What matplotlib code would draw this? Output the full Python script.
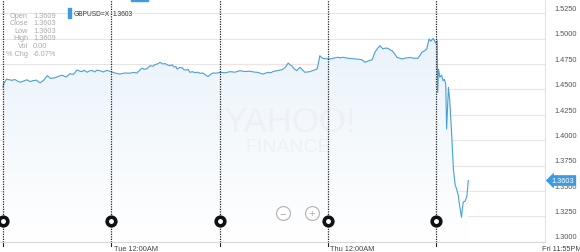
import numpy as np
import matplotlib.pyplot as plt
import matplotlib.transforms as mtransforms
from matplotlib.colors import LinearSegmentedColormap

plt.rcParams['font.family'] = ['Liberation Sans', 'DejaVu Sans']

# hours since Mon 12:00AM, GBPUSD=X close
hours = [0, 0.2, 0.8, 1.4, 2.0, 2.6, 3.2, 3.8, 4.5, 5.3, 6.0, 6.6, 7.4, 8.2, 9.0,
         9.8, 10.6, 11.5, 12.3, 13.1, 14.0, 14.8, 15.6, 16.4, 17.0, 17.5, 18.0,
         18.6, 19.2, 19.7, 20.3, 20.8, 21.5, 22.2, 23.0, 23.7, 24.3, 24.8, 25.4,
         25.9, 27.0, 28.1, 29.0, 29.7, 30.3, 30.8, 31.3, 31.9, 32.3, 32.6, 33.2,
         33.7, 34.3, 34.8, 35.4, 35.9, 36.5, 37.0, 37.5, 37.9, 38.3, 38.6, 39.2,
         39.7, 40.1, 40.5, 41.0, 41.4, 42.0, 42.5, 43.1, 43.7, 44.3, 44.8, 45.1,
         45.4, 46.0, 46.5, 47.3, 48.1, 49.2, 50.3, 51.4, 52.5, 53.6, 54.7, 55.5,
         56.3, 57.0, 57.6, 58.2, 58.7, 59.3, 59.8, 60.8, 61.8, 62.5, 63.2, 63.6,
         64.0, 64.6, 65.1, 65.5, 65.8, 66.4, 66.9, 67.5, 68.0, 68.8, 69.6, 69.9,
         70.2, 70.6, 70.9, 71.7, 72.5, 73.3, 74.2, 74.8, 75.3, 76.1, 76.9, 78.2,
         79.5, 79.9, 80.2, 81.0, 81.8, 82.1, 82.4, 83.0, 83.5, 83.9, 84.2, 84.8,
         85.3, 85.8, 86.2, 86.8, 87.3, 87.9, 88.4, 89.3, 90.2, 91.0, 91.9, 92.4,
         92.8, 93.4, 93.9, 94.4, 94.8, 95.3, 95.6, 95.9, 96.2, 96.3, 96.5, 96.8,
         97.2, 97.5, 97.8, 98.1, 98.3, 98.7, 99.0, 99.4, 99.8, 100.2, 100.5,
         100.9, 101.1, 101.3, 101.6, 101.8, 102.0, 102.4, 102.8, 103.1]
prices = [1.4524, 1.4560, 1.4602, 1.4595, 1.4590, 1.4598, 1.4583, 1.4570, 1.4582,
          1.4595, 1.4578, 1.4586, 1.4592, 1.4565, 1.4590, 1.4635, 1.4608, 1.4615,
          1.4630, 1.4640, 1.4622, 1.4655, 1.4648, 1.4692, 1.4680, 1.4675, 1.4690,
          1.4669, 1.4683, 1.4688, 1.4672, 1.4690, 1.4684, 1.4672, 1.4688, 1.4679,
          1.4670, 1.4662, 1.4656, 1.4652, 1.4662, 1.4660, 1.4668, 1.4662, 1.4690,
          1.4710, 1.4698, 1.4705, 1.4722, 1.4734, 1.4728, 1.4745, 1.4752, 1.4767,
          1.4750, 1.4755, 1.4740, 1.4734, 1.4742, 1.4720, 1.4726, 1.4700, 1.4718,
          1.4712, 1.4695, 1.4690, 1.4698, 1.4669, 1.4675, 1.4665, 1.4670, 1.4659,
          1.4662, 1.4645, 1.4638, 1.4626, 1.4648, 1.4662, 1.4660, 1.4669, 1.4664,
          1.4675, 1.4670, 1.4685, 1.4676, 1.4680, 1.4672, 1.4669, 1.4660, 1.4652,
          1.4661, 1.4668, 1.4664, 1.4675, 1.4686, 1.4694, 1.4715, 1.4760, 1.4742,
          1.4733, 1.4700, 1.4685, 1.4705, 1.4718, 1.4690, 1.4669, 1.4672, 1.4675,
          1.4688, 1.4702, 1.4760, 1.4832, 1.4815, 1.4806, 1.4802, 1.4800, 1.4808,
          1.4817, 1.4811, 1.4817, 1.4810, 1.4805, 1.4800, 1.4793, 1.4780, 1.4767,
          1.4782, 1.4793, 1.4830, 1.4866, 1.4905, 1.4931, 1.4912, 1.4900, 1.4908,
          1.4905, 1.4890, 1.4882, 1.4850, 1.4817, 1.4808, 1.4800, 1.4810, 1.4815,
          1.4808, 1.4806, 1.4835, 1.4866, 1.4880, 1.4900, 1.4997, 1.4975, 1.5003,
          1.4982, 1.4957, 1.4980, 1.4470, 1.4701, 1.4620, 1.4640, 1.4586, 1.4600,
          1.4553, 1.4110, 1.4520, 1.4389, 1.4077, 1.3716, 1.3560, 1.3520, 1.3453,
          1.3380, 1.3322, 1.3240, 1.3330, 1.3390, 1.3400, 1.3450, 1.3603]

y_ticks = [1.3000, 1.3250, 1.3500, 1.3750, 1.4000, 1.4250, 1.4500, 1.4750, 1.5000, 1.5250]
day_lines = [0, 24, 48, 72, 96]
x_label_pos = [24, 72, 119.0]
x_labels = ['Tue 12:00AM', 'Thu 12:00AM', 'Fri 11:55PM']
quote_names = ['Open', 'Close', 'Low', 'High', 'Vol', '% Chg']
quote_values = ['1.3609', '1.3603', '1.3603', '1.3609', '0.00', '-6.07%']
symbol = 'GBPUSD=X'
last_price = 1.3603

fig = plt.figure(figsize=(5.8, 2.53), dpi=100)
ax = fig.add_axes([0, 10 / 253, 545 / 580, 243 / 253])
ax.set_xlim(-0.665, 120.1)
ax.set_ylim(1.2997, 1.5391)
for s in ['top', 'left']:
    ax.spines[s].set_visible(False)
ax.spines['right'].set_color('#e3e3e3')
ax.spines['bottom'].set_color('#d8d8d8')
ax.set_xticks([])
ax.set_yticks([])

for v in y_ticks:
    ax.axhline(v, color='#e6e6e6', lw=0.8, zorder=0)
ax.axhline(1.4750, xmin=0.4, xmax=0.6, color='#f3e2e2', lw=0.8, zorder=0)

# gradient fill under line
poly = ax.fill_between(hours, prices, 1.2997, color='none', lw=0)
grad = np.linspace(0.0, 1.0, 256).reshape(-1, 1)
cmap = LinearSegmentedColormap.from_list('f', ['#ffffff', '#e6f1fa'])
im = ax.imshow(grad, cmap=cmap, aspect='auto', extent=[-0.665, 120.1, 1.2997, 1.5391],
               origin='lower', zorder=1)
im.set_clip_path(poly.get_paths()[0], transform=ax.transData)
ax.plot(hours, prices, color='#4a9fd5', lw=0.8, zorder=3)

# watermark
ax.text(289 / 545, (243 - 122) / 243, 'YAHOO!', transform=ax.transAxes, ha='center',
        va='center', fontsize=25, color='#eef0f4', zorder=2)
ax.text(288 / 545, (243 - 148) / 243, 'FINANCE', transform=ax.transAxes,
        ha='center', va='center', fontsize=14, color='#eef0f4', zorder=2)

bt = mtransforms.blended_transform_factory(ax.transData, ax.transAxes)
for d in day_lines:
    ax.axvline(d, color='#222222', lw=0.9, ls=(0, (1, 1)), zorder=4)
    ax.plot(d, 21 / 243, 'o', ms=6.2, mfc='white', mec='#111111', mew=2.6,
            transform=bt, zorder=5, clip_on=False)
    ax.plot([d, d], [0, -4 / 243], color='#222222', lw=0.8, transform=bt, clip_on=False)

for p, lab in zip(x_label_pos, x_labels):
    ax.text(p + 0.5, -3 / 243, lab, transform=bt, fontsize=5.3, color='#444444',
            ha='left', va='top', clip_on=False)

# zoom buttons
for xp, sym in [(283, '\u2212'), (312, '+')]:
    ax.plot(xp / 545, 29 / 243, 'o', ms=10, mfc='white', mec='#b8b8b8', mew=0.9,
            transform=ax.transAxes, zorder=5)
    ax.text(xp / 545, 29 / 243, sym, transform=ax.transAxes, ha='center', va='center',
            fontsize=8, color='#aaaaaa', zorder=6)

# right value axis
rt = mtransforms.blended_transform_factory(ax.transAxes, ax.transData)
for v in y_ticks:
    ax.text(577 / 545, v + 0.0012, f'{v:.4f}', transform=rt, fontsize=5.3,
            color='#555555', ha='right', va='bottom', clip_on=False)
ax.annotate(f'{last_price:.4f}', xy=(548 / 545, last_price), xycoords=rt,
            xytext=(563 / 545, last_price), textcoords=rt, fontsize=5.3, color='white',
            ha='center', va='center', annotation_clip=False,
            bbox=dict(boxstyle='larrow,pad=0.25', fc='#3d9be0', ec='none'))

# quote box
for i, (n, q) in enumerate(zip(quote_names, quote_values)):
    fig.text(28 / 580, 1 - (16 + i * 7.6) / 253, n, fontsize=5.3, color='#aaaaaa',
             ha='right', va='center')
    fig.text(33 / 580, 1 - (16 + i * 7.6) / 253, q, fontsize=5.3, color='#aaaaaa',
             ha='left', va='center')

# legend
fig.patches.append(plt.Rectangle((68 / 580, 1 - 19 / 253), 3 / 580, 10 / 253,
                                 transform=fig.transFigure, color='#3d9be0'))
fig.text(74 / 580, 1 - 14 / 253, symbol, fontsize=4.8, color='#333333', va='center')
fig.text(113 / 580, 1 - 14 / 253, f'{last_price:.4f}', fontsize=4.8, color='#333333',
         va='center')
fig.patches.append(plt.Rectangle((131 / 580, 1 - 2 / 253), 17 / 580, 2 / 253,
                                 transform=fig.transFigure, color='#3d9be0'))

fig.savefig('out.png', dpi=100)
